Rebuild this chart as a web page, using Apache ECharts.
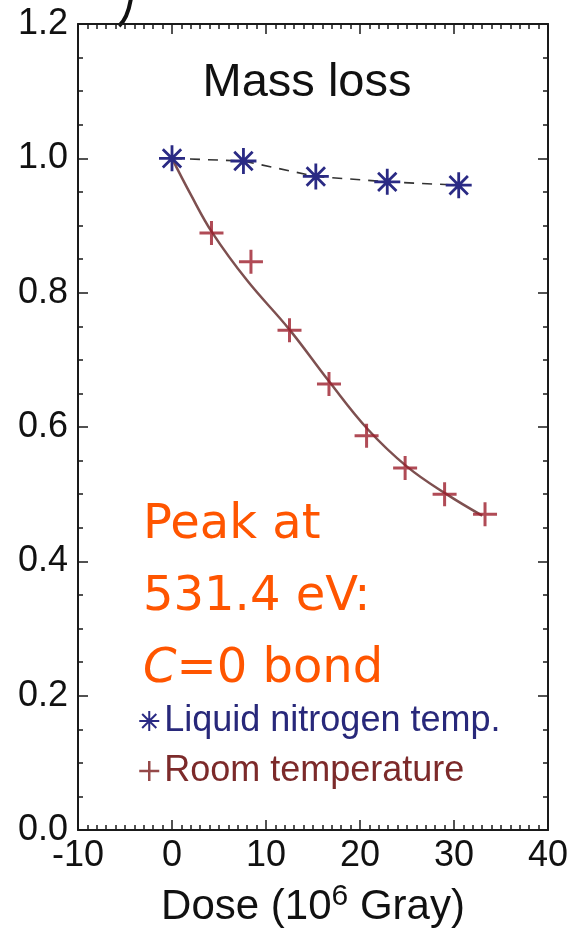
<!DOCTYPE html>
<html>
<head>
<meta charset="utf-8">
<script src="https://cdn.jsdelivr.net/npm/echarts@6/dist/echarts.min.js"></script>
<style>
html,body{margin:0;padding:0;background:#fff;}
#chart{width:572px;height:933px;}
</style>
</head>
<body>
<div id="chart"></div>
<script>
// Liquid nitrogen temperature measurements
const nitroDose = [0, 7.6, 15.3, 22.9, 30.5];
const nitroMass = [1.0, 0.996, 0.973, 0.965, 0.960];
// Room temperature measurements
const roomDose = [4.2, 8.4, 12.5, 16.7, 20.7, 24.8, 29.0, 33.3];
const roomMass = [0.889, 0.846, 0.744, 0.664, 0.587, 0.539, 0.500, 0.470];
// Fitted curve through room temperature data
const fitDose = [0, 2, 4.3, 8, 12.5, 16.7, 20.8, 25, 29.2, 33];
const fitMass = [1.0, 0.946, 0.889, 0.818, 0.745, 0.668, 0.597, 0.541, 0.500, 0.468];
// Axis ticks
const xTicks = [-10, 0, 10, 20, 30, 40];
const yTicks = [0.0, 0.2, 0.4, 0.6, 0.8, 1.0, 1.2];
const titleText = 'Mass loss';
const seriesNames = ['Liquid nitrogen temp.', 'Room temperature'];
const noteLines = ['Peak at', '531.4 eV:', 'C=0 bond'];

const zip = (a, b) => a.map((v, i) => [v, b[i]]);

const asterisk = 'path://M0,-10L0,10M-10,0L10,0M-7.07,-7.07L7.07,7.07M-7.07,7.07L7.07,-7.07';
const plus = 'path://M0,-10L0,10M-10,0L10,0';

const blue = '#2a2a84';
const red = '#9c1e2c';
const axisColor = '#1a1a1a';
const font = '"Liberation Sans", Arial, Helvetica, sans-serif';
const xMin = xTicks[0], xMax = xTicks[xTicks.length - 1];
const yMin = yTicks[0], yMax = yTicks[yTicks.length - 1];

const chart = echarts.init(document.getElementById('chart'));

function xAxisCfg(pos, showLabel, interval, tickLen) {
  return {
    type: 'value', position: pos, min: xMin, max: xMax, interval: interval,
    axisLine: { show: tickLen > 6, onZero: false, lineStyle: { color: axisColor, width: 2 } },
    axisTick: { show: true, inside: true, length: tickLen, lineStyle: { color: axisColor, width: 1.5 } },
    splitLine: { show: false },
    axisLabel: { show: showLabel, fontSize: 36, color: '#111', fontFamily: font, margin: 8 }
  };
}
function yAxisCfg(pos, showLabel, interval, tickLen) {
  return {
    type: 'value', position: pos, min: yMin, max: yMax, interval: interval,
    axisLine: { show: tickLen > 6, onZero: false, lineStyle: { color: axisColor, width: 2 } },
    axisTick: { show: true, inside: true, length: tickLen, lineStyle: { color: axisColor, width: 1.5 } },
    splitLine: { show: false },
    axisLabel: { show: showLabel, fontSize: 36, color: '#111', fontFamily: font, margin: 10,
      formatter: v => v.toFixed(1) }
  };
}

const xBottom = xAxisCfg('bottom', true, 10, 10);
xBottom.name = '{a|Dose (10}{s|6}{a| Gray)}';
xBottom.nameLocation = 'middle';
xBottom.nameGap = 52;
xBottom.nameTextStyle = {
  rich: {
    a: { fontSize: 42, fontFamily: font, color: '#111' },
    s: { fontSize: 30, fontFamily: font, color: '#111', verticalAlign: 'top', padding: [0, 0, 20, 0] }
  }
};

chart.setOption({
  animation: false,
  backgroundColor: '#fff',
  grid: { left: 78, right: 24, top: 24, bottom: 103, containLabel: false, outerBoundsMode: 'none' },
  xAxis: [
    xBottom,
    xAxisCfg('top', false, 10, 10),
    xAxisCfg('bottom', false, 1, 5),
    xAxisCfg('top', false, 1, 5)
  ],
  yAxis: [
    yAxisCfg('left', true, 0.2, 10),
    yAxisCfg('right', false, 0.2, 10),
    yAxisCfg('left', false, 0.05, 5),
    yAxisCfg('right', false, 0.05, 5)
  ],
  title: {
    text: titleText, left: 302, top: 55, textAlign: 'center',
    textStyle: { fontSize: 47, fontWeight: 'normal', color: '#111', fontFamily: font }
  },
  legend: {
    orient: 'vertical', left: 133, top: 696, itemGap: 10,
    itemWidth: 20, itemHeight: 20,
    textStyle: { fontSize: 36, fontFamily: font, lineHeight: 40 },
    data: [
      { name: seriesNames[0], icon: asterisk,
        itemStyle: { color: 'transparent', borderColor: blue, borderWidth: 2 },
        textStyle: { color: '#28287a' } },
      { name: seriesNames[1], icon: plus,
        itemStyle: { color: 'transparent', borderColor: '#7a1a1a', borderWidth: 2.5 },
        textStyle: { color: '#7c2a2a' } }
    ]
  },
  graphic: [
    {
      type: 'text', left: 143, top: 490,
      style: {
        text: noteLines[0] + '\n' + noteLines[1] + '\n{i|C}=0 bond',
        fontSize: 48, lineHeight: 72, fill: '#ff5500',
        fontFamily: '"Comic Sans MS", "DejaVu Sans", sans-serif',
        rich: { i: { fontStyle: 'italic', fontSize: 48, fill: '#ff5500', fontFamily: '"Comic Sans MS", "DejaVu Sans", sans-serif' } }
      }
    },
    {
      type: 'bezierCurve',
      shape: { x1: 131, y1: -2, cpx1: 128, cpy1: 18, x2: 119, y2: 26 },
      style: { stroke: '#111', lineWidth: 4, fill: null }
    }
  ],
  series: [
    {
      name: 'fit', type: 'line', smooth: 0.4, data: zip(fitDose, fitMass),
      showSymbol: false, symbol: 'none', z: 1,
      lineStyle: { color: '#7e5050', width: 2.5 }
    },
    {
      name: seriesNames[0], type: 'line', data: zip(nitroDose, nitroMass),
      symbol: asterisk, symbolSize: 26, z: 3,
      lineStyle: { color: '#333', width: 1.6, type: [10, 8] },
      itemStyle: { color: 'transparent', borderColor: blue, borderWidth: 2.8 }
    },
    {
      name: seriesNames[1], type: 'scatter', data: zip(roomDose, roomMass),
      symbol: plus, symbolSize: 24, z: 4,
      itemStyle: { color: 'transparent', borderColor: red, borderWidth: 3 }
    }
  ]
});
</script>
</body>
</html>
